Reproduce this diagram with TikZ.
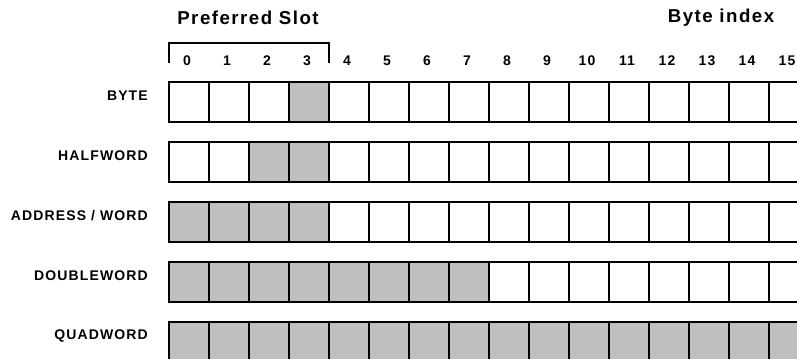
\documentclass[tikz,border=0pt]{standalone}
\usepackage{fontspec}
\setmainfont{Liberation Sans}[LetterSpace=8]
\usepackage{tikz}
\usetikzlibrary{positioning,calc}

\definecolor{slotgray}{RGB}{191,191,191}

\begin{document}
\begin{tikzpicture}[x=0.75pt,y=-0.75pt,
    cell/.style={draw, line width=1.1pt, minimum size=30pt, inner sep=0pt},
    rowlabel/.style={anchor=east, inner sep=0pt, font=\fontsize{10.5pt}{12pt}\selectfont\bfseries},
    idx/.style={inner sep=0pt, font=\fontsize{10.5pt}{12pt}\selectfont\bfseries},
    title/.style={inner sep=0pt, font=\fontsize{14pt}{16pt}\selectfont\bfseries}]
  \useasboundingbox (0,0) rectangle (797,358);
  \clip (0,0) rectangle (797,358);
  % headings
  \node[title] (pref) at (248,18) {Preferred Slot};
  \node[title] (bidx) at (721,18) {Byte index};
  % byte numbers
  \foreach \j in {0,...,15}
    \node[idx] (i\j) at (187+40*\j,61) {\j};
  % bracket over the preferred slot
  \coordinate (slotL) at (169,63);
  \coordinate (slotR) at (329,63);
  \draw[line width=1.1pt] (slotL) -- ++(0,-20) -| (slotR);
  % one row per data type, shaded bytes from \a to \b
  \foreach \lbl/\y/\a/\b [count=\r] in {BYTE/102/3/3, HALFWORD/162/2/3,
      {ADDRESS / WORD}/222/0/3, DOUBLEWORD/282/0/7, QUADWORD/342/0/15} {
    \node[rowlabel] (lbl\r) at (148,\y-6) {\lbl};
    \foreach \j in {0,...,15} {
      \ifnum\j<\a \def\fc{white}\else\ifnum\j>\b \def\fc{white}\else\def\fc{slotgray}\fi\fi
      \node[cell, fill=\fc] (c\r-\j) at (189+40*\j,\y) {};
    }
  }
\end{tikzpicture}
\end{document}
